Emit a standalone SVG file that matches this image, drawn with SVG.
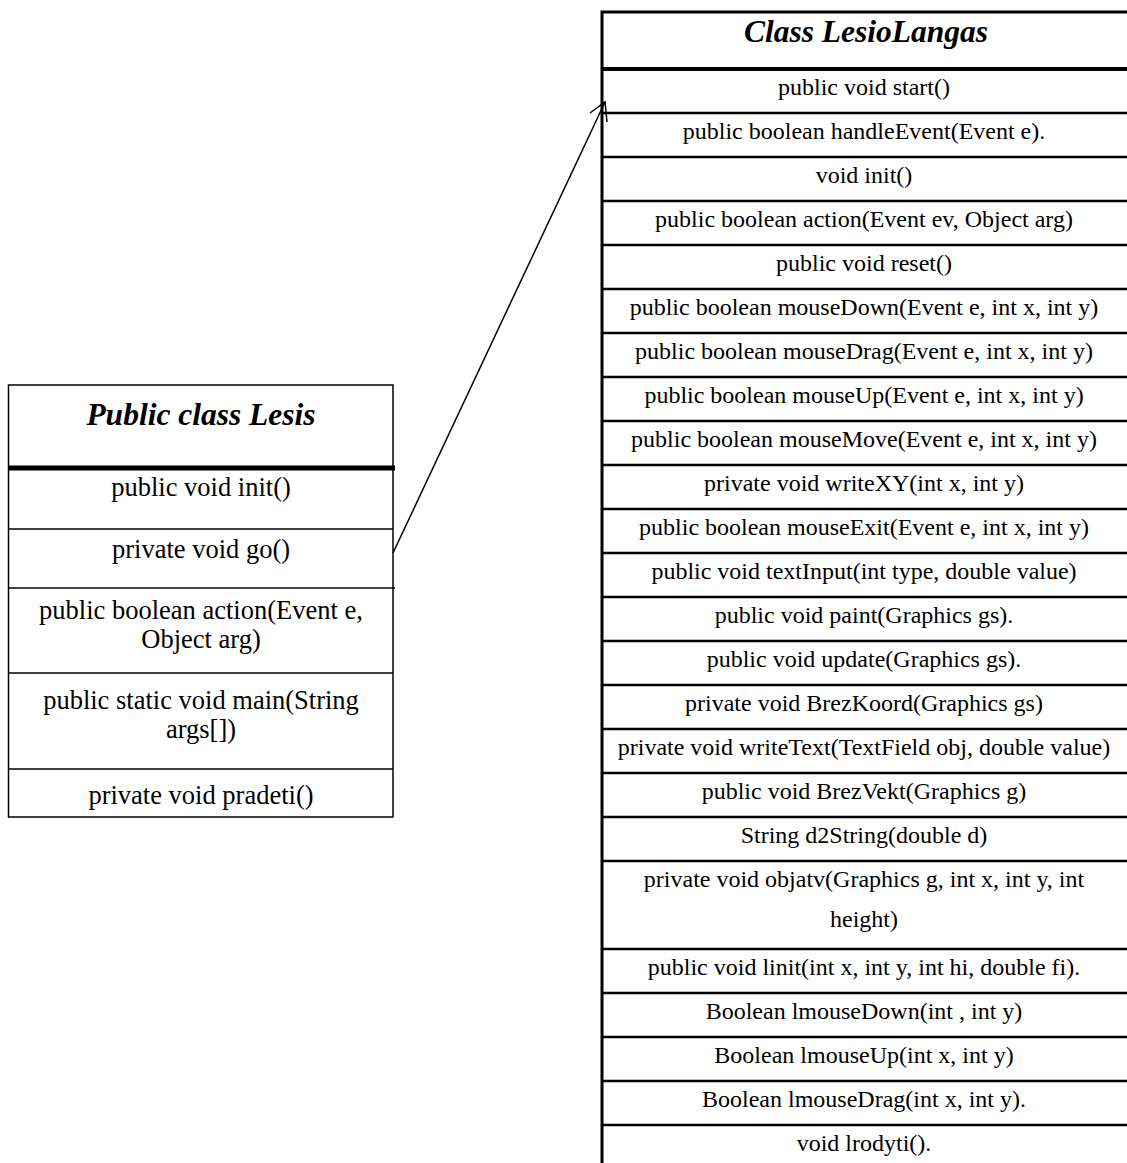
<svg xmlns="http://www.w3.org/2000/svg" width="1127" height="1163" viewBox="0 0 1127 1163">
<style>
.t{font-family:"Liberation Serif","Times New Roman",serif;fill:#000;text-anchor:middle}
.l{font-size:26.5px}
.r{font-size:24px}
.h{font-size:31.5px;font-weight:bold;font-style:italic}
.b{fill:#fff;stroke:#000}
.row{stroke:#000;stroke-width:2.5}
.lrow{stroke:#000;stroke-width:1.5}
</style>
<rect width="1127" height="1163" fill="#fff"/>
<g id="node-lesis">
<rect class="b" x="8.5" y="385" width="384.5" height="432" stroke-width="1.5"/>
<line x1="8.5" y1="468" x2="395" y2="468" stroke="#000" stroke-width="5"/>
<line class="lrow" x1="8.5" y1="529" x2="393" y2="529"/>
<line class="lrow" x1="8.5" y1="588" x2="395" y2="588"/>
<line class="lrow" x1="8.5" y1="673" x2="393" y2="673"/>
<line class="lrow" x1="8.5" y1="769" x2="393" y2="769"/>
<text class="t h" x="201" y="425">Public class Lesis</text>
<text class="t l" x="201" y="496">public void init()</text>
<text class="t l" x="201" y="558">private void go()</text>
<text class="t l" x="201" y="619">public boolean action(Event e,</text>
<text class="t l" x="201" y="648">Object arg)</text>
<text class="t l" x="201" y="709">public static void main(String</text>
<text class="t l" x="201" y="738">args[])</text>
<text class="t l" x="201" y="804">private void pradeti()</text>
</g>
<g id="node-lesiolangas">
<rect class="b" x="602" y="12" width="540" height="1170" stroke-width="3"/>
<line x1="602" y1="69" x2="1127" y2="69" stroke="#000" stroke-width="4"/>
<g class="row">
<line x1="602" y1="113" x2="1127" y2="113"/>
<line x1="602" y1="157" x2="1127" y2="157"/>
<line x1="602" y1="201" x2="1127" y2="201"/>
<line x1="602" y1="245" x2="1127" y2="245"/>
<line x1="602" y1="289" x2="1127" y2="289"/>
<line x1="602" y1="333" x2="1127" y2="333"/>
<line x1="602" y1="377" x2="1127" y2="377"/>
<line x1="602" y1="421" x2="1127" y2="421"/>
<line x1="602" y1="465" x2="1127" y2="465"/>
<line x1="602" y1="509" x2="1127" y2="509"/>
<line x1="602" y1="553" x2="1127" y2="553"/>
<line x1="602" y1="597" x2="1127" y2="597"/>
<line x1="602" y1="641" x2="1127" y2="641"/>
<line x1="602" y1="685" x2="1127" y2="685"/>
<line x1="602" y1="729" x2="1127" y2="729"/>
<line x1="602" y1="773" x2="1127" y2="773"/>
<line x1="602" y1="817" x2="1127" y2="817"/>
<line x1="602" y1="861" x2="1127" y2="861"/>
<line x1="602" y1="949" x2="1127" y2="949"/>
<line x1="602" y1="993" x2="1127" y2="993"/>
<line x1="602" y1="1037" x2="1127" y2="1037"/>
<line x1="602" y1="1081" x2="1127" y2="1081"/>
<line x1="602" y1="1125" x2="1127" y2="1125"/>
</g>
<text class="t h" x="866" y="42">Class LesioLangas</text>
<text class="t r" x="864" y="95">public void start()</text>
<text class="t r" x="864" y="139">public boolean handleEvent(Event e).</text>
<text class="t r" x="864" y="183">void init()</text>
<text class="t r" x="864" y="227">public boolean action(Event ev, Object arg)</text>
<text class="t r" x="864" y="271">public void reset()</text>
<text class="t r" x="864" y="315">public boolean mouseDown(Event e, int x, int y)</text>
<text class="t r" x="864" y="359">public boolean mouseDrag(Event e, int x, int y)</text>
<text class="t r" x="864" y="403">public boolean mouseUp(Event e, int x, int y)</text>
<text class="t r" x="864" y="447">public boolean mouseMove(Event e, int x, int y)</text>
<text class="t r" x="864" y="491">private void writeXY(int x, int y)</text>
<text class="t r" x="864" y="535">public boolean mouseExit(Event e, int x, int y)</text>
<text class="t r" x="864" y="579">public void textInput(int type, double value)</text>
<text class="t r" x="864" y="623">public void paint(Graphics gs).</text>
<text class="t r" x="864" y="667">public void update(Graphics gs).</text>
<text class="t r" x="864" y="711">private void BrezKoord(Graphics gs)</text>
<text class="t r" x="864" y="755">private void writeText(TextField obj, double value)</text>
<text class="t r" x="864" y="799">public void BrezVekt(Graphics g)</text>
<text class="t r" x="864" y="843">String d2String(double d)</text>
<text class="t r" x="864" y="887">private void objatv(Graphics g, int x, int y, int</text>
<text class="t r" x="864" y="927">height)</text>
<text class="t r" x="864" y="975">public void linit(int x, int y, int hi, double fi).</text>
<text class="t r" x="864" y="1019">Boolean lmouseDown(int , int y)</text>
<text class="t r" x="864" y="1063">Boolean lmouseUp(int x, int y)</text>
<text class="t r" x="864" y="1107">Boolean lmouseDrag(int x, int y).</text>
<text class="t r" x="864" y="1151">void lrodyti().</text>
</g>
<g id="connectors" fill="none" stroke="#000" stroke-width="1.5">
<line x1="393" y1="553" x2="605" y2="102"/>
<path d="M590,113 L605,102 L607,122"/>
</g>
</svg>
